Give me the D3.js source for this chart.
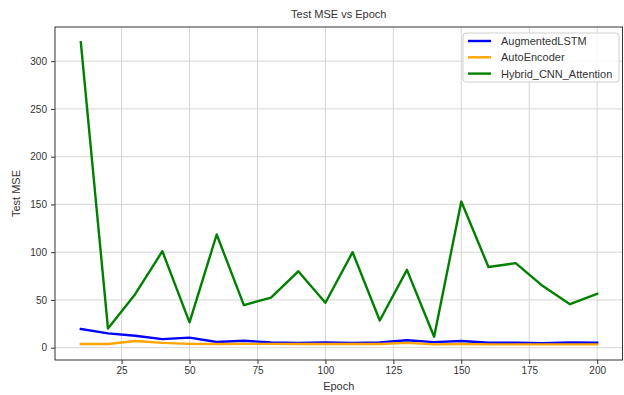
<!DOCTYPE html>
<html>
<head>
<meta charset="utf-8">
<script src="https://cdn.jsdelivr.net/npm/d3@7"></script>
<style>
  html, body { margin: 0; padding: 0; background: #fff; }
  svg { display: block; font-family: "Liberation Sans", Arial, sans-serif; }
</style>
</head>
<body>
<svg id="chart" width="624" height="395"></svg>
<script>
// Test MSE per epoch for three models
const epochs = [10, 20, 30, 40, 50, 60, 70, 80, 90, 100, 110, 120, 130, 140, 150, 160, 170, 180, 190, 200];
const augmentedLSTM = [19.5, 15, 12.5, 9, 10.5, 6, 7.2, 5.5, 5, 5.5, 5, 5.5, 7.8, 5.8, 7, 5.2, 5.2, 4.8, 5.5, 5.2];
const autoEncoder = [3.8, 3.8, 7, 5, 4, 3.8, 4, 4, 3.8, 3.8, 3.8, 3.8, 5, 3.5, 3.8, 3.5, 3.5, 3.5, 3.5, 3.5];
const hybridCNNAttention = [319.7, 20, 56, 101, 26.5, 118.5, 44.5, 52.5, 80, 47, 100, 28.5, 81.5, 11.5, 153, 84.5, 88.5, 64.5, 45.5, 56.5];
const xTicks = [25, 50, 75, 100, 125, 150, 175, 200];
const yTicks = [0, 50, 100, 150, 200, 250, 300];

const seriesList = [
  { name: "AugmentedLSTM", values: augmentedLSTM, color: "#0000ff" },
  { name: "AutoEncoder", values: autoEncoder, color: "#ffa500" },
  { name: "Hybrid_CNN_Attention", values: hybridCNNAttention, color: "#008000" }
];

const svg = d3.select("#chart");
const m = { left: 55, right: 622.5, top: 27, bottom: 360 };

const x = d3.scaleLinear().domain([0.5, 209.5]).range([m.left, m.right + 0.5]);
const y = d3.scaleLinear().domain([-12.9, 335.8]).range([m.bottom, m.top]);

// grid
const grid = svg.append("g");
grid.selectAll(".gx").data(xTicks).enter().append("line")
  .attr("x1", d => x(d)).attr("x2", d => x(d))
  .attr("y1", m.top).attr("y2", m.bottom)
  .attr("stroke", "#d6d6d6").attr("stroke-width", 1);
grid.selectAll(".gy").data(yTicks).enter().append("line")
  .attr("x1", m.left).attr("x2", m.right)
  .attr("y1", d => y(d)).attr("y2", d => y(d))
  .attr("stroke", "#d6d6d6").attr("stroke-width", 1);

// lines
const line = d3.line().x((d, i) => x(epochs[i])).y(d => y(d));
seriesList.forEach(s => {
  svg.append("path").datum(s.values)
    .attr("d", line)
    .attr("fill", "none")
    .attr("stroke", s.color)
    .attr("stroke-width", 2.4)
    .attr("stroke-linejoin", "round")
    .attr("stroke-linecap", "square");
});

// frame
svg.append("rect")
  .attr("x", m.left).attr("y", m.top)
  .attr("width", m.right - m.left).attr("height", m.bottom - m.top)
  .attr("fill", "none").attr("stroke", "#333").attr("stroke-width", 1);

// axes
const xAxis = d3.axisBottom(x).tickValues(xTicks).tickSize(4).tickPadding(3);
const yAxis = d3.axisLeft(y).tickValues(yTicks).tickSize(4).tickPadding(4);

const gx = svg.append("g").attr("transform", `translate(0,${m.bottom})`).call(xAxis);
const gy = svg.append("g").attr("transform", `translate(${m.left},0)`).call(yAxis);
[gx, gy].forEach(g => {
  g.select(".domain").remove();
  g.selectAll(".tick line").attr("stroke", "#333");
  g.selectAll(".tick text").attr("fill", "#333").style("font-size", "10px")
    .style("font-family", "'Liberation Sans', Arial, sans-serif");
});

// title and axis labels
svg.append("text").attr("x", (m.left + m.right) / 2).attr("y", 18)
  .attr("text-anchor", "middle").attr("fill", "#333").style("font-size", "11px")
  .text("Test MSE vs Epoch");
svg.append("text").attr("x", (m.left + m.right) / 2).attr("y", 390)
  .attr("text-anchor", "middle").attr("fill", "#333").style("font-size", "11px")
  .text("Epoch");
svg.append("text")
  .attr("transform", `translate(20,${(m.top + m.bottom) / 2}) rotate(-90)`)
  .attr("text-anchor", "middle").attr("fill", "#333").style("font-size", "11px")
  .text("Test MSE");

// legend
const lg = svg.append("g");
lg.append("rect").attr("x", 463).attr("y", 33).attr("width", 156).attr("height", 49)
  .attr("rx", 3).attr("fill", "#fff").attr("fill-opacity", 0.85)
  .attr("stroke", "#d0d0d0").attr("stroke-width", 1);
seriesList.forEach((s, i) => {
  const yy = 41 + i * 16.3;
  lg.append("line").attr("x1", 468).attr("x2", 491).attr("y1", yy).attr("y2", yy)
    .attr("stroke", s.color).attr("stroke-width", 2.4);
  lg.append("text").attr("x", 501).attr("y", yy + 4)
    .attr("fill", "#333").style("font-size", "11px").text(s.name);
});
</script>
</body>
</html>
